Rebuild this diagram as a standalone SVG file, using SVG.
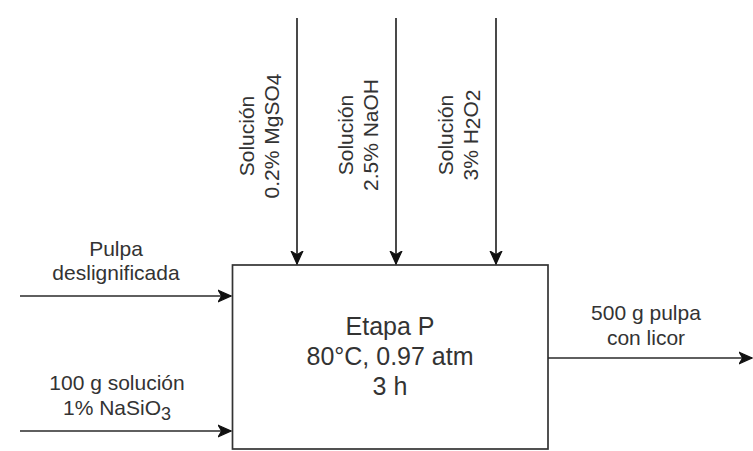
<svg xmlns="http://www.w3.org/2000/svg" width="753" height="451" viewBox="0 0 753 451">
<style>
  .lbl { font-family: "Liberation Sans", Arial, sans-serif; font-size: 21px; fill: #333333; text-anchor: middle; }
  .main { font-family: "Liberation Sans", Arial, sans-serif; font-size: 25px; fill: #333333; text-anchor: middle; }
  .conn { stroke: #2a2a2a; stroke-width: 1.7; fill: none; marker-end: url(#arr); }
  .box { fill: #ffffff; stroke: #333333; stroke-width: 1.7; }
</style>
<defs>
  <marker id="arr" markerUnits="userSpaceOnUse" markerWidth="14" markerHeight="14" refX="11" refY="6" orient="auto" viewBox="0 0 12 12">
    <path d="M0,1 L11,6 L0,11 L3,6 z" fill="#111111" stroke="#111111" stroke-width="1"/>
  </marker>
</defs>
<rect width="753" height="451" fill="#ffffff"/>
<g id="node-etapa">
  <rect class="box" x="232.5" y="265" width="315.5" height="184"/>
  <text class="main" x="390" y="335">Etapa P</text>
  <text class="main" x="390" y="365">80°C, 0.97 atm</text>
  <text class="main" x="390" y="395">3 h</text>
</g>
<g id="connectors">
  <line class="conn" x1="297" y1="18" x2="297" y2="264"/>
  <line class="conn" x1="396" y1="18" x2="396" y2="264"/>
  <line class="conn" x1="496" y1="18" x2="496" y2="264"/>
  <line class="conn" x1="20" y1="296" x2="231" y2="296"/>
  <line class="conn" x1="20" y1="431" x2="231" y2="431"/>
  <line class="conn" x1="548" y1="358" x2="752" y2="358"/>
</g>
<g id="label-mgso4" transform="translate(254,136) rotate(-90)">
  <text class="lbl" x="0" y="0">Solución</text>
  <text class="lbl" x="0" y="25">0.2% MgSO<tspan dy="2">4</tspan></text>
</g>
<g id="label-naoh" transform="translate(353,135) rotate(-90)">
  <text class="lbl" x="0" y="0">Solución</text>
  <text class="lbl" x="0" y="25">2.5% NaOH</text>
</g>
<g id="label-h2o2" transform="translate(453,135) rotate(-90)">
  <text class="lbl" x="0" y="0">Solución</text>
  <text class="lbl" x="0" y="25">3% H<tspan dy="2">2</tspan><tspan dy="-2">O</tspan><tspan dy="2">2</tspan></text>
</g>
<g id="label-pulpa">
  <text class="lbl" x="116" y="256">Pulpa</text>
  <text class="lbl" x="116" y="280">deslignificada</text>
</g>
<g id="label-nasio3">
  <text class="lbl" x="117" y="390">100 g solución</text>
  <text class="lbl" x="117" y="415">1% NaSiO<tspan dy="5" font-size="18">3</tspan></text>
</g>
<g id="label-salida">
  <text class="lbl" x="646" y="320">500 g pulpa</text>
  <text class="lbl" x="646" y="345">con licor</text>
</g>
</svg>
